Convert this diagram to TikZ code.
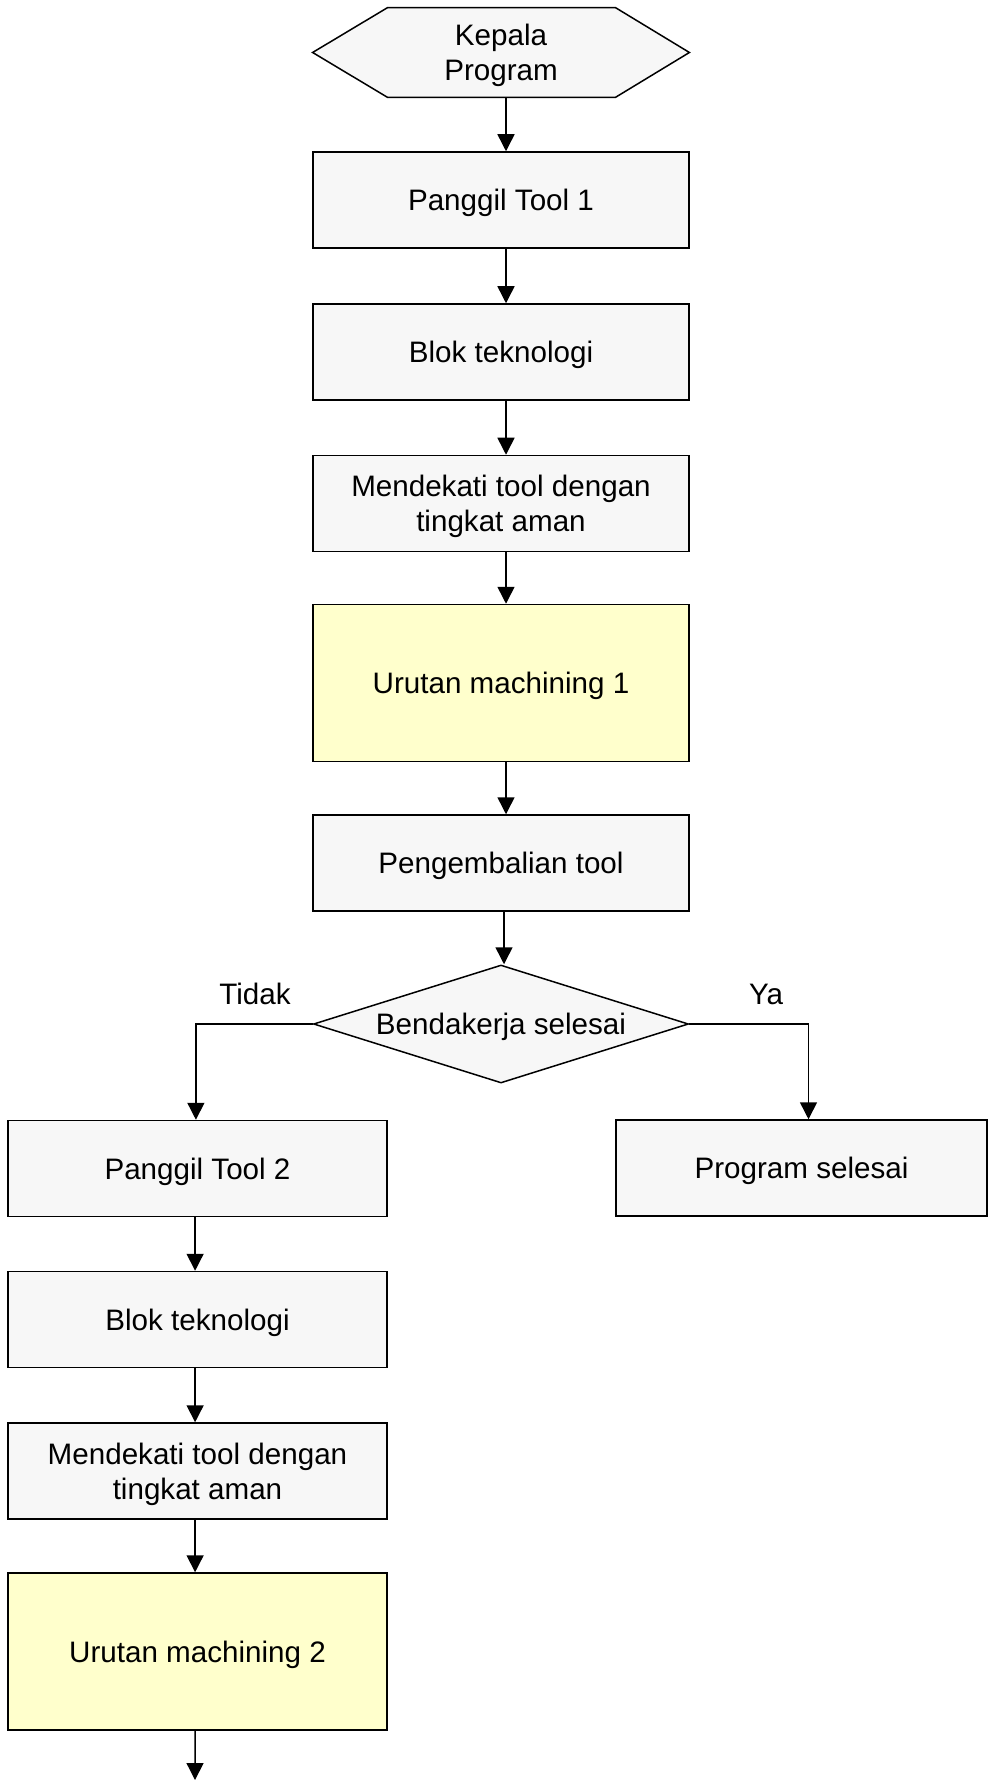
\documentclass[tikz,border=0pt]{standalone}
\usepackage{fontspec}
\setmainfont{Liberation Sans}
\usetikzlibrary{arrows.meta,shapes.geometric,backgrounds}
\definecolor{boxgray}{HTML}{F7F7F7}
\definecolor{boxyellow}{HTML}{FFFFCC}
\begin{document}
\begin{tikzpicture}[x=0.5pt,y=-0.5pt,
  txt/.style={font=\fontsize{14.8}{17.5}\selectfont, align=center},
  box/.style={txt, text depth=0pt, draw, line width=0.75pt, fill=boxgray, minimum width=188pt, minimum height=48pt, inner sep=0pt},
  ybox/.style={box, fill=boxyellow, minimum height=78.5pt},
  lbox/.style={box, minimum width=189.5pt},
  hexbox/.style={txt, text depth=0pt, draw=none, minimum width=188pt, minimum height=44.5pt, inner sep=0pt},
  decbox/.style={txt, text depth=0pt, diamond, draw, line width=0.75pt, fill=boxgray, aspect=3.2, minimum width=187.5pt, minimum height=59pt, inner sep=0pt},
  lbl/.style={txt},
  arr/.style={-{Triangle[width=8.5pt,length=8.5pt]}, line width=0.75pt}
]
\useasboundingbox (0,0) rectangle (988,1780);

% main column
\node[hexbox] (hex) at (501,52.5) {Kepala\\Program};
\begin{scope}[on background layer]
\draw[line width=0.75pt, fill=boxgray] (hex.west) -- ([xshift=37.5pt]hex.north west) -- ([xshift=-37pt]hex.north east) -- (hex.east) -- ([xshift=-37pt]hex.south east) -- ([xshift=37.5pt]hex.south west) -- cycle;
\end{scope}
\node[box] (b1) at (501,200) {Panggil Tool 1};
\node[box] (b2) at (501,352) {Blok teknologi};
\node[box] (b3) at (501,503.5) {Mendekati tool dengan\\tingkat aman};
\node[ybox] (b4) at (501,683) {Urutan machining 1};
\node[box] (b5) at (501,863) {Pengembalian tool};
\node[decbox] (dec) at (501,1024) {Bendakerja selesai};

% left column
\node[lbox] (c1) at (197.5,1168.5) {Panggil Tool 2};
\node[lbox] (c2) at (197.5,1319.5) {Blok teknologi};
\node[lbox] (c3) at (197.5,1471) {Mendekati tool dengan\\tingkat aman};
\node[lbox, fill=boxyellow, minimum height=78.5pt] (c4) at (197.5,1651.5) {Urutan machining 2};
\coordinate (endpt) at (195,1780);

% right box
\node[box, minimum width=185.5pt] (ps) at (801.5,1168) {Program selesai};

% labels
\node[lbl] (tidak) at (255,994) {Tidak};
\node[lbl] (ya) at (766,994) {Ya};

% connectors
\draw[arr] ([xshift=2.5pt]hex.south) -- ([xshift=2.5pt]b1.north);
\draw[arr] ([xshift=2.5pt]b1.south) -- ([xshift=2.5pt]b2.north);
\draw[arr] ([xshift=2.5pt]b2.south) -- ([xshift=2.5pt]b3.north);
\draw[arr] ([xshift=2.5pt]b3.south) -- ([xshift=2.5pt]b4.north);
\draw[arr] ([xshift=2.5pt]b4.south) -- ([xshift=2.5pt]b5.north);
\draw[arr] ([xshift=1.5pt]b5.south) -- ([xshift=1.5pt]dec.north);
\draw[arr] (dec.west) -| ([xshift=-0.8pt]c1.north);
\draw[arr] (dec.east) -| ([xshift=3.5pt]ps.north);
\draw[arr] ([xshift=-1.2pt]c1.south) -- ([xshift=-1.2pt]c2.north);
\draw[arr] ([xshift=-1.2pt]c2.south) -- ([xshift=-1.2pt]c3.north);
\draw[arr] ([xshift=-1.2pt]c3.south) -- ([xshift=-1.2pt]c4.north);
\draw[arr] ([xshift=-1.2pt]c4.south) -- (endpt);
\end{tikzpicture}
\end{document}
